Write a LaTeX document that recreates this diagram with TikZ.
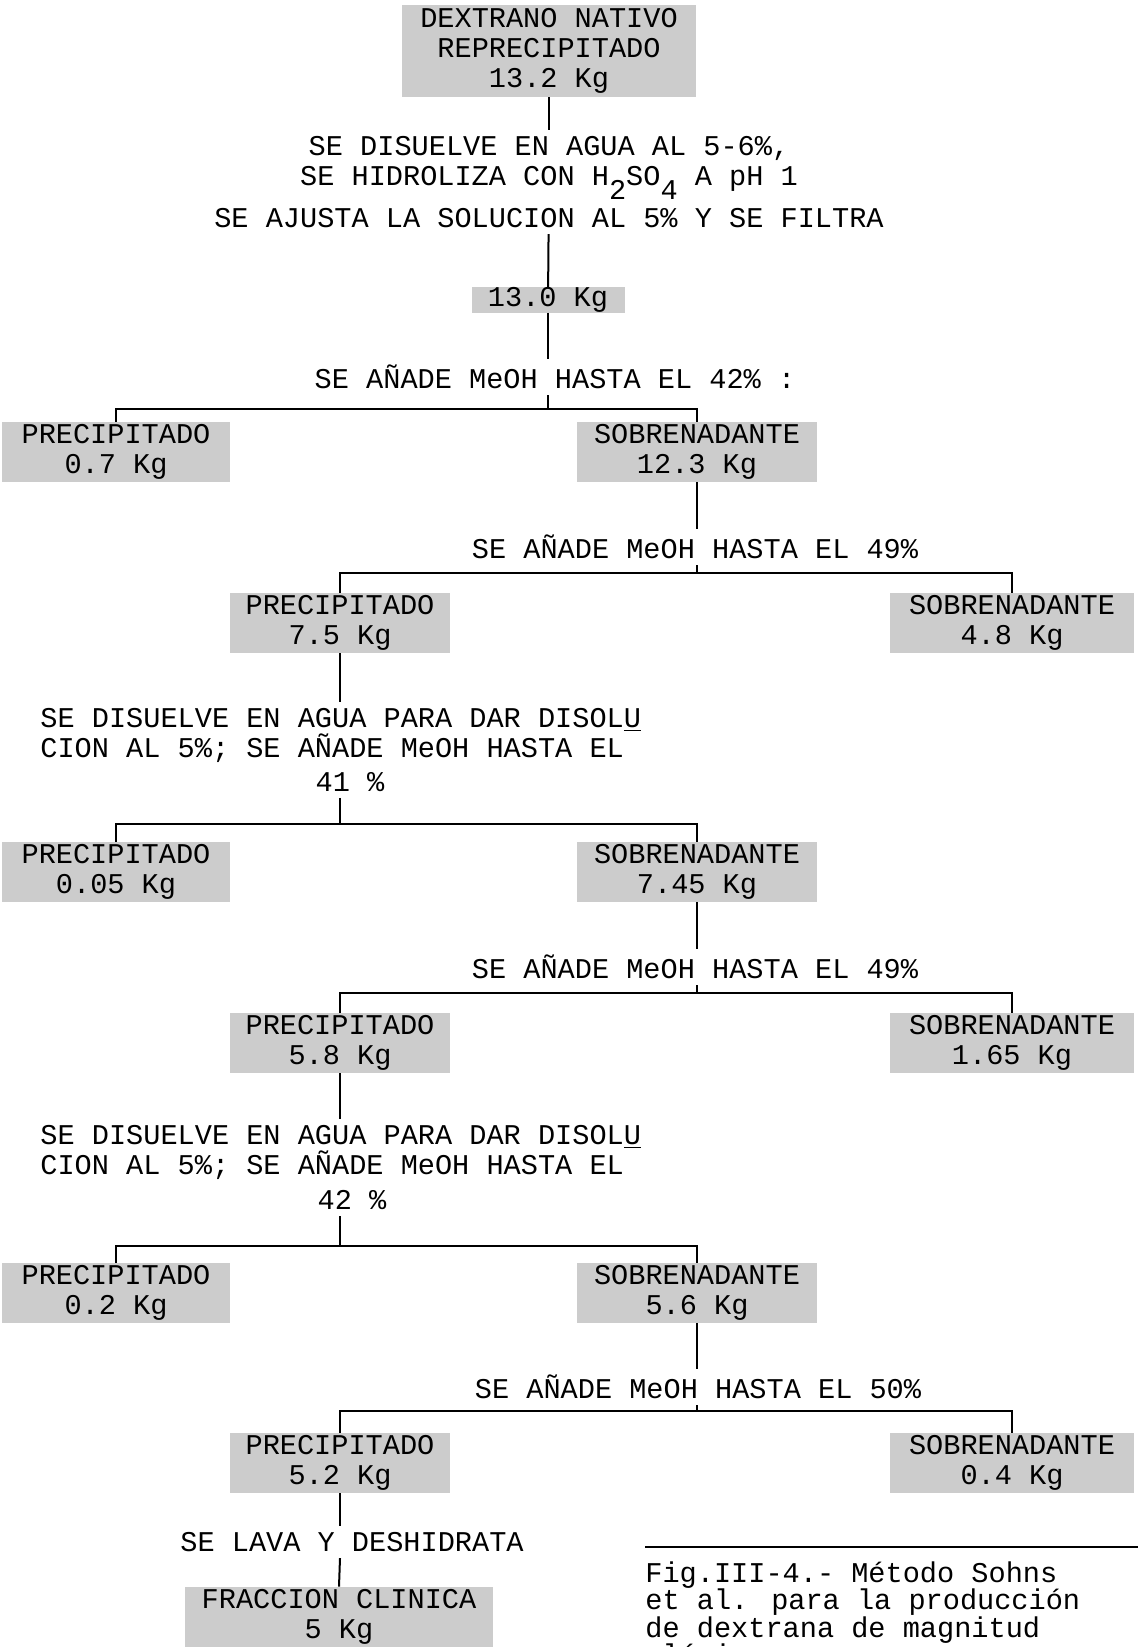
\documentclass[tikz,border=0pt]{standalone}
\usepackage{fontspec}
\setmainfont{Liberation Mono}
\usetikzlibrary{positioning}

\begin{document}
\begin{tikzpicture}[
    x=0.5pt, y=-0.5pt,
    font=\fontsize{14.3}{15}\selectfont,
    fraccion/.style={rectangle, fill=black!20, align=center, inner sep=0pt, minimum height=30pt},
    texto/.style={align=center, inner sep=3pt},
    linea/.style={line width=1pt},
    rama/.style={line width=1.4pt}
]
\useasboundingbox (0,0) rectangle (1141,1647);

\node[fraccion, minimum width=147pt, minimum height=46pt] (dextrano) at (549,51) {DEXTRANO NATIVO\\REPRECIPITADO\\13.2 Kg};
\node[texto] (sol) at (549,182) {SE DISUELVE EN AGUA AL 5-6\%,\\SE HIDROLIZA CON H\raisebox{-7pt}{2}SO\raisebox{-7pt}{4} A pH 1\\[3.5pt]SE AJUSTA LA SOLUCION AL 5\% Y SE FILTRA};
\node[fraccion, minimum width=76.5pt, minimum height=12.5pt] (kg13) at (548,300) {13.0 Kg};

% primera precipitacion
\node[texto] (add42) at (555,377) {SE AÑADE MeOH HASTA EL 42\% :};
\coordinate (b1) at (548,409);
\node[fraccion, minimum width=114pt] (p1) at (116,452) {PRECIPITADO\\0.7 Kg};
\node[fraccion, minimum width=120pt] (s1) at (697,452) {SOBRENADANTE\\12.3 Kg};

\node[texto] (add49a) at (695,547) {SE AÑADE MeOH HASTA EL 49\%};
\coordinate (b2) at (697,573);
\node[fraccion, minimum width=110pt] (p2) at (340,623) {PRECIPITADO\\7.5 Kg};
\node[fraccion, minimum width=122pt] (s2) at (1012,623) {SOBRENADANTE\\4.8 Kg};

% segunda precipitacion
\node[texto, align=left, anchor=west] (dis41) at (34,735) {SE DISUELVE EN AGUA PARA DAR DISOL\underline{U}\\CION AL 5\%; SE AÑADE MeOH HASTA EL};
\node[texto] (pc41) at (350,782) {41 \%};
\coordinate (b3) at (340,824);
\node[fraccion, minimum width=114pt] (p3) at (116,872) {PRECIPITADO\\0.05 Kg};
\node[fraccion, minimum width=120pt] (s3) at (697,872) {SOBRENADANTE\\7.45 Kg};

\node[texto] (add49b) at (695,967) {SE AÑADE MeOH HASTA EL 49\%};
\coordinate (b4) at (697,993);
\node[fraccion, minimum width=110pt] (p4) at (340,1043) {PRECIPITADO\\5.8 Kg};
\node[fraccion, minimum width=122pt] (s4) at (1012,1043) {SOBRENADANTE\\1.65 Kg};

% tercera precipitacion
\node[texto, align=left, anchor=west] (dis42) at (34,1152) {SE DISUELVE EN AGUA PARA DAR DISOL\underline{U}\\CION AL 5\%; SE AÑADE MeOH HASTA EL};
\node[texto] (pc42) at (352,1200) {42 \%};
\coordinate (b5) at (340,1246);
\node[fraccion, minimum width=114pt] (p5) at (116,1293) {PRECIPITADO\\0.2 Kg};
\node[fraccion, minimum width=120pt] (s5) at (697,1293) {SOBRENADANTE\\5.6 Kg};

\node[texto] (add50) at (698,1387) {SE AÑADE MeOH HASTA EL 50\%};
\coordinate (b6) at (697,1411);
\node[fraccion, minimum width=110pt] (p6) at (340,1463) {PRECIPITADO\\5.2 Kg};
\node[fraccion, minimum width=122pt] (s6) at (1012,1463) {SOBRENADANTE\\0.4 Kg};

\node[texto] (lava) at (352,1542) {SE LAVA Y DESHIDRATA};
\node[fraccion, minimum width=154pt] (clinica) at (339,1617) {FRACCION CLINICA\\5 Kg};

% pie de figura
\draw[line width=1.4pt] (645,1547) -- (1138,1547);
\node[align=left, anchor=north west, inner sep=0pt, font=\fontsize{14.3}{13.75}\selectfont] (pie) at (645,1561) {Fig.III-4.- Método Sohns\\et al. para la producción\\de dextrana de magnitud\\clínica};

\draw[linea] (dextrano) -- (sol);
\draw[linea] (sol) -- (kg13);
\draw[linea] (kg13.south) -- (kg13.south |- add42.north);
\draw[linea] (kg13.south |- add42.south) -- (b1);
\draw[rama] (p1.north) |- (b1) -| (s1.north);
\draw[linea] (s1.south) -- (s1.south |- add49a.north);
\draw[linea] (s1.south |- add49a.south) -- (b2);
\draw[rama] (p2.north) |- (b2) -| (s2.north);
\draw[linea] (p2.south) -- (p2.south |- dis41.north);
\draw[linea] (p2.south |- pc41.south) -- (b3);
\draw[rama] (p3.north) |- (b3) -| (s3.north);
\draw[linea] (s3.south) -- (s3.south |- add49b.north);
\draw[linea] (s3.south |- add49b.south) -- (b4);
\draw[rama] (p4.north) |- (b4) -| (s4.north);
\draw[linea] (p4.south) -- (p4.south |- dis42.north);
\draw[linea] (p4.south |- pc42.south) -- (b5);
\draw[rama] (p5.north) |- (b5) -| (s5.north);
\draw[linea] (s5.south) -- (s5.south |- add50.north);
\draw[linea] (s5.south |- add50.south) -- (b6);
\draw[rama] (p6.north) |- (b6) -| (s6.north);
\draw[linea] (p6.south) -- (p6.south |- lava.north);
\draw[linea] (p6.south |- lava.south) -- (clinica.north);
\end{tikzpicture}
\end{document}
